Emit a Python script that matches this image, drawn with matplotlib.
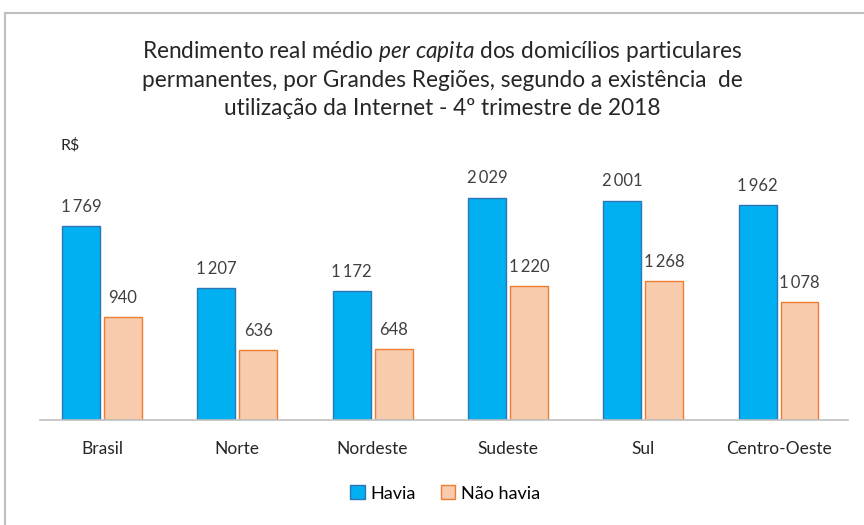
import numpy as np
import matplotlib.pyplot as plt
from matplotlib.patches import Rectangle
from matplotlib.lines import Line2D

regioes = ['Brasil', 'Norte', 'Nordeste', 'Sudeste', 'Sul', 'Centro-Oeste']
havia = [1769, 1207, 1172, 2029, 2001, 1962]
nao_havia = [940, 636, 648, 1220, 1268, 1078]
series_names = ['Havia', 'Não havia']

plt.rcParams['font.family'] = ['Lato', 'DejaVu Sans']
plt.rcParams['mathtext.fontset'] = 'custom'
plt.rcParams['mathtext.rm'] = 'Lato'
plt.rcParams['mathtext.it'] = 'Lato:italic'

fig = plt.figure(figsize=(8.64, 5.25), dpi=100)
ax = fig.add_axes([0.046, 0.2, 0.935, 0.518])

x = np.arange(len(regioes))
w = 0.28
off = 0.155
b1 = ax.bar(x - off, havia, w, color='#00B0F0', edgecolor='#2E75B6', linewidth=1, label=series_names[0])
b2 = ax.bar(x + off, nao_havia, w, color='#F8CBAD', edgecolor='#ED7D31', linewidth=1, label=series_names[1])

def fmt(v):
    s = f'{v:,}'.replace(',', '\u2009')
    return s

for bars, vals in [(b1, havia), (b2, nao_havia)]:
    for r, v in zip(bars, vals):
        ax.annotate(fmt(v), (r.get_x() + r.get_width() / 2, v), xytext=(0, 8),
                    textcoords='offset points', ha='center', va='bottom',
                    fontsize=12, color='#404040')

ax.set_xlim(-0.46, 5.51)
ax.set_ylim(0, 2480)
ax.set_xticks(x)
ax.set_xticklabels(regioes, fontsize=12.5, color='#262626')
ax.tick_params(axis='x', length=0, pad=15)
ax.set_yticks([])
for s in ['top', 'right', 'left']:
    ax.spines[s].set_visible(False)
ax.spines['bottom'].set_color('#BFBFBF')
ax.spines['bottom'].set_linewidth(1.2)

fig.text(0.512, 0.85, 'Rendimento real médio $\\it{per\\ capita}$ dos domicílios particulares\n'
         'permanentes, por Grandes Regiões, segundo a existência  de\n'
         'utilização da Internet - 4º trimestre de 2018',
         ha='center', va='center', fontsize=16.3, linespacing=1.38, color='#262626')
fig.text(0.081, 0.724, 'R$', ha='center', va='center', fontsize=11.5, color='#262626')

handles = [Rectangle((0, 0), 1, 1, facecolor='#00B0F0', edgecolor='#2E75B6'),
           Rectangle((0, 0), 1, 1, facecolor='#F8CBAD', edgecolor='#ED7D31')]
fig.legend(handles, series_names, loc='center', bbox_to_anchor=(0.515, 0.06), ncol=2,
           frameon=False, fontsize=13, handlelength=0.8, handleheight=0.8,
           handletextpad=0.3, columnspacing=1.4)

# outer frame (cropped: only top and left visible)
fig.add_artist(Line2D([0.006, 1.0], [0.975, 0.975], transform=fig.transFigure, color='#BFBFBF', lw=1.5))
fig.add_artist(Line2D([0.006, 0.006], [0.0, 0.975], transform=fig.transFigure, color='#BFBFBF', lw=1.5))

fig.savefig('out.png', dpi=100)
